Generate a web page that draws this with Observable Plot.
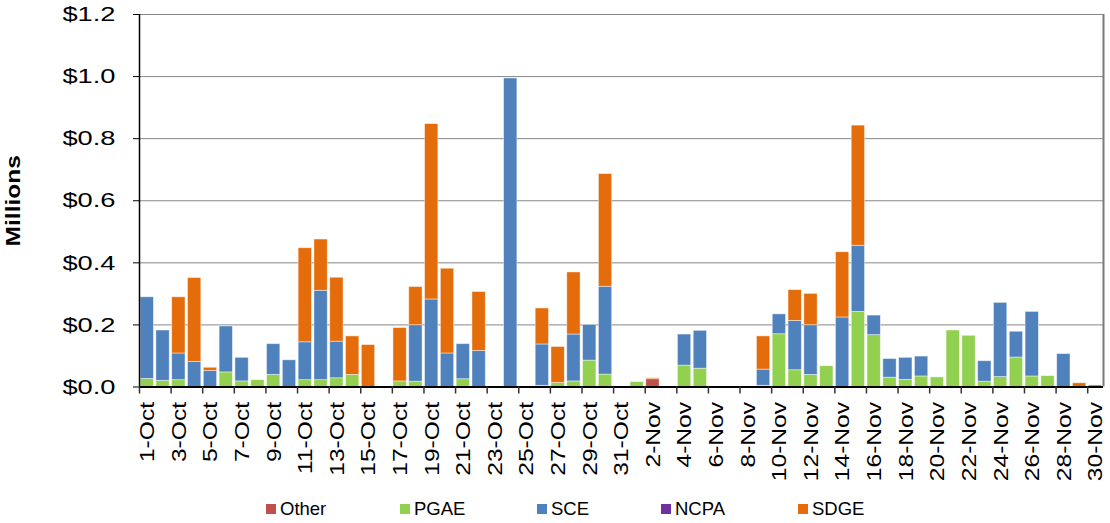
<!DOCTYPE html>
<html><head><meta charset="utf-8">
<script src="https://cdn.jsdelivr.net/npm/d3@7"></script>
<script src="https://cdn.jsdelivr.net/npm/@observablehq/plot@0.6"></script>
<style>
body{margin:0;background:#fff;font-family:"Liberation Sans",Arial,sans-serif;}
#wrap{position:relative;width:1110px;height:523px;overflow:hidden;}
#wrap svg{position:absolute;left:0;top:0;}
.leg{position:absolute;top:498px;display:flex;align-items:center;font-size:18.5px;line-height:1.15;color:#000;white-space:nowrap}
.leg .sw{display:inline-block;width:10px;height:10px;margin-right:4px}
</style></head><body><div id="wrap"></div>
<script>
const days = ["1-Oct","2-Oct","3-Oct","4-Oct","5-Oct","6-Oct","7-Oct","8-Oct","9-Oct","10-Oct",
"11-Oct","12-Oct","13-Oct","14-Oct","15-Oct","16-Oct","17-Oct","18-Oct","19-Oct","20-Oct",
"21-Oct","22-Oct","23-Oct","24-Oct","25-Oct","26-Oct","27-Oct","28-Oct","29-Oct","30-Oct","31-Oct",
"1-Nov","2-Nov","3-Nov","4-Nov","5-Nov","6-Nov","7-Nov","8-Nov","9-Nov","10-Nov",
"11-Nov","12-Nov","13-Nov","14-Nov","15-Nov","16-Nov","17-Nov","18-Nov","19-Nov","20-Nov",
"21-Nov","22-Nov","23-Nov","24-Nov","25-Nov","26-Nov","27-Nov","28-Nov","29-Nov","30-Nov"];
const seriesNames = ["Other","PGAE","SCE","NCPA","SDGE"];
const seriesColors = ["#c0504d","#92d050","#4f81bd","#7030a0","#e46c0a"];
// values in $ millions, one per day
const other = [0,0,0,0,0,0,0,0,0,0, 0,0,0,0,0,0,0,0,0,0, 0,0,0,0,0,0,0,0,0,0,0,
               0,0.025,0,0,0,0,0,0,0,0, 0,0,0,0,0,0,0,0,0,0, 0,0,0,0,0,0,0,0,0,0];
const pgae  = [0.026,0.020,0.022,0,0,0.047,0.018,0.022,0.039,0,
               0.022,0.022,0.028,0.039,0,0,0.018,0.017,0,0,
               0.025,0,0,0,0,0.004,0.013,0.018,0.085,0.040,0,
               0.016,0,0,0.069,0.059,0,0,0,0.004,0.170,
               0.054,0.039,0.067,0,0.242,0.167,0.030,0.023,0.034,0.031,
               0.182,0.165,0.017,0.032,0.095,0.034,0.035,0,0,0];
const sce   = [0.263,0.162,0.086,0.081,0.052,0.148,0.076,0,0.099,0.086,
               0.122,0.288,0.118,0,0,0,0,0.182,0.282,0.108,
               0.113,0.116,0,0.994,0,0.133,0,0.151,0.115,0.283,0,
               0,0,0,0.100,0.122,0,0,0,0.052,0.064,
               0.159,0.160,0,0.224,0.213,0.063,0.060,0.071,0.064,0,
               0,0,0.066,0.239,0.083,0.208,0,0.106,0,0];
const ncpa  = [0,0,0,0,0,0,0,0,0,0, 0,0,0,0,0,0,0,0,0,0, 0,0,0,0,0,0,0,0,0,0,0,
               0,0,0,0,0,0,0,0,0,0, 0,0,0,0,0,0,0,0,0,0, 0,0,0,0,0,0,0,0,0,0];
const sdge  = [0,0,0.181,0.270,0.010,0,0,0,0,0,
               0.303,0.165,0.206,0.124,0.135,0,0.172,0.123,0.565,0.273,
               0,0.190,0,0,0,0.116,0.116,0.200,0,0.363,0,
               0,0.003,0,0,0,0,0,0,0.107,0,
               0.099,0.101,0,0.210,0.387,0,0,0,0,0,
               0,0,0,0,0,0,0,0,0.012,0.005];
const yTicks = [0,0.2,0.4,0.6,0.8,1.0,1.2];

const seriesValues = [other, pgae, sce, ncpa, sdge];
const rows = [];
days.forEach((d, i) => seriesValues.forEach((vals, k) => {
  if (vals[i] > 0) rows.push({i, day: d, series: seriesNames[k], value: vals[i]});
}));
const tickIdx = days.map((d, i) => i).filter(i => i % 2 === 0);
const font = "'Liberation Sans', Arial, Helvetica, sans-serif";

const chart = Plot.plot({
  width: 1110, height: 495,
  marginTop: 14, marginLeft: 139, marginRight: 7, marginBottom: 108.5,
  style: {fontFamily: font, background: "white", color: "#000"},
  x: {domain: [0, days.length], axis: null},
  y: {domain: [0, 1.2], axis: null},
  color: {domain: seriesNames, range: seriesColors},
  marks: [
    Plot.gridY(yTicks, {stroke: "#878787", strokeOpacity: 1, strokeWidth: 1}),
    Plot.rectY(rows, Plot.stackY({
      x1: "i", x2: d => d.i + 1, y: "value", fill: "series", order: seriesNames,
      insetLeft: 1.1, insetRight: 1.4, stroke: "white", strokeOpacity: 0.55, strokeWidth: 0.8
    })),
    Plot.ruleY([0], {stroke: "#000", strokeWidth: 2}),
    Plot.ruleX([0], {stroke: "#000", strokeWidth: 1.5}),
    Plot.ruleX([days.length], {stroke: "#7a7a7a", strokeWidth: 2}),
    Plot.axisY(yTicks, {tickSize: 6, tickPadding: 18, tickFormat: d => "$" + d.toFixed(1),
      fontSize: 21, label: null, stroke: "#000"}),
    Plot.axisX(tickIdx, {tickSize: 7, tickFormat: () => "", label: null, stroke: "#333", strokeWidth: 1.5}),
    Plot.axisX(tickIdx.map(i => i + 0.5), {tickSize: 0, tickPadding: 15, tickRotate: -90,
      tickFormat: v => days[Math.round(v - 0.5)], fontSize: 21, label: null}),
    Plot.text(["Millions"], {text: d => d, frameAnchor: "left", textAnchor: "middle", rotate: -90, dx: -126,
      fontWeight: "bold", fontSize: 21, fill: "#000"})
  ]
});

const stretch = (sel, s) => d3.select(chart).selectAll(sel).each(function () {
  const t = this.getAttribute("transform") || "";
  this.setAttribute("transform", t + ` scale(${s},1)`);
});
stretch('g[aria-label="y-axis tick label"] text', 1.3);
stretch('g[aria-label="x-axis tick label"] text', 1.17);
stretch('g[aria-label="text"] text', 1.17);

const wrap = document.getElementById("wrap");
wrap.appendChild(chart);
const legLeft = [266, 400, 537, 661, 798];
seriesNames.forEach((name, k) => {
  const item = document.createElement("div");
  item.className = "leg";
  item.style.left = legLeft[k] + "px";
  const sw = document.createElement("span");
  sw.className = "sw";
  sw.style.background = seriesColors[k];
  item.appendChild(sw);
  item.appendChild(document.createTextNode(name));
  wrap.appendChild(item);
});
</script></body></html>
